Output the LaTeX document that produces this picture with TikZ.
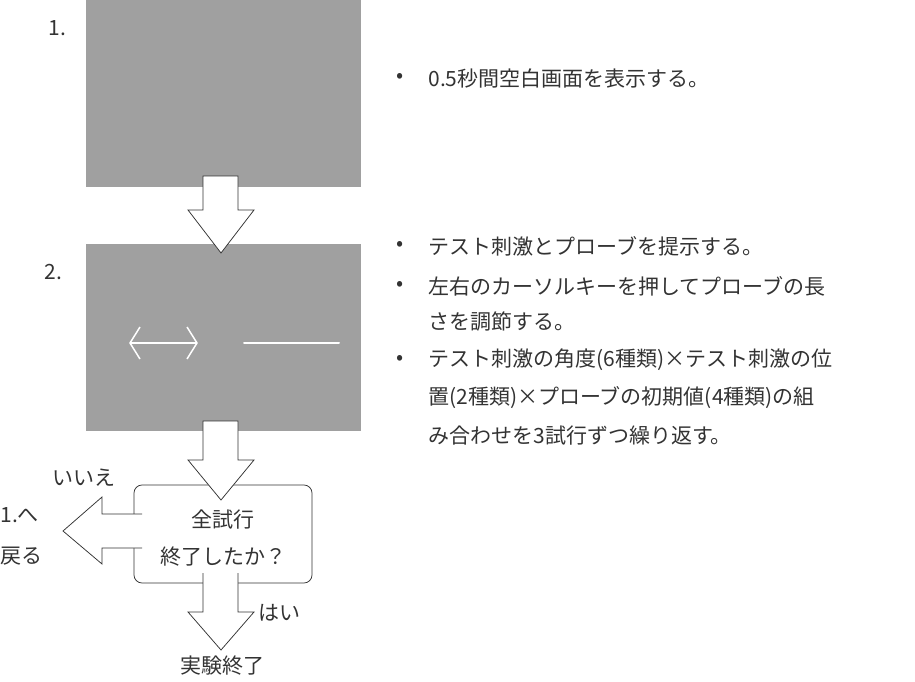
\documentclass[tikz,border=0pt]{standalone}
\usepackage{fontspec}
\setmainfont{Noto Sans CJK JP}
\definecolor{screen}{RGB}{160,160,160}
\definecolor{ink}{RGB}{51,51,51}
\tikzset{every picture/.style={line width=0.75pt}}
\tikzset{
  lbl/.style={anchor=west,inner sep=0pt,text=ink,font=\fontsize{21}{21}\selectfont},
  blk/.style={draw=ink,fill=white,line width=0.75pt},
  bul/.style={anchor=west,inner sep=0pt,text=ink,font=\fontsize{21}{21}\selectfont}
}
\begin{document}
\begin{tikzpicture}[x=1pt,y=1pt,yscale=-1]
\useasboundingbox (0,0) rectangle (915,682);

% screens
\fill[screen] (86,0) rectangle (361,187);
\fill[screen] (86,244) rectangle (361,431);
\node[lbl] (n1) at (48,28) {1.};
\node[lbl] (n2) at (44,272) {2.};

% stimulus
\draw[white,line width=2pt,line cap=round] (244,343) -- (339,343);
\draw[white,line width=1.5pt] (130,343) -- (197,343);
\draw[white,line width=1.5pt] (140,327) -- (130,343) -- (140,359);
\draw[white,line width=1.5pt] (187,327) -- (197,343) -- (187,359);

% decision box
\draw[ink,fill=white,rounded corners=8pt] (134,485) rectangle (312,583);
\node[lbl,anchor=center] (q1) at (223,520) {全試行};
\node[lbl,anchor=center] (q2) at (223,557) {終了したか？};

% block arrows
\draw[blk] (203,176) -- (238,176) -- (238,210) -- (254,210) -- (221,253) -- (188,210) -- (203,210) -- cycle;
\draw[blk] (203,421) -- (238,421) -- (238,460) -- (254,460) -- (221,500) -- (188,460) -- (203,460) -- cycle;
\draw[blk] (142,514) -- (102,514) -- (102,497) -- (63,531) -- (102,564) -- (102,548) -- (142,548);
\draw[blk] (203,573) -- (203,612) -- (188,612) -- (221,650) -- (254,612) -- (238,612) -- (238,573);

\node[lbl] (no) at (52,478) {いいえ};
\node[lbl] (back1) at (0,515) {1.へ};
\node[lbl] (back2) at (0,556) {戻る};
\node[lbl] (yes) at (258,613) {はい};
\node[lbl,anchor=center] (end) at (222,666) {実験終了};

% description
\foreach \y/\t in {78/{•},246/{•},286/{•},360/{•}}
  \node[bul] at (396,\y) {\t};
\node[bul] (d1) at (428,78) {0.5秒間空白画面を表示する。};
\node[bul] (d2) at (428,246) {テスト刺激とプローブを提示する。};
\node[bul] (d3) at (428,286) {左右のカーソルキーを押してプローブの長};
\node[bul] (d3b) at (428,322) {さを調節する。};
\node[bul] (d4) at (428,360) {テスト刺激の角度(6種類)×テスト刺激の位};
\node[bul] (d4b) at (428,398) {置(2種類)×プローブの初期値(4種類)の組};
\node[bul] (d4c) at (428,436) {み合わせを3試行ずつ繰り返す。};
\end{tikzpicture}
\end{document}
